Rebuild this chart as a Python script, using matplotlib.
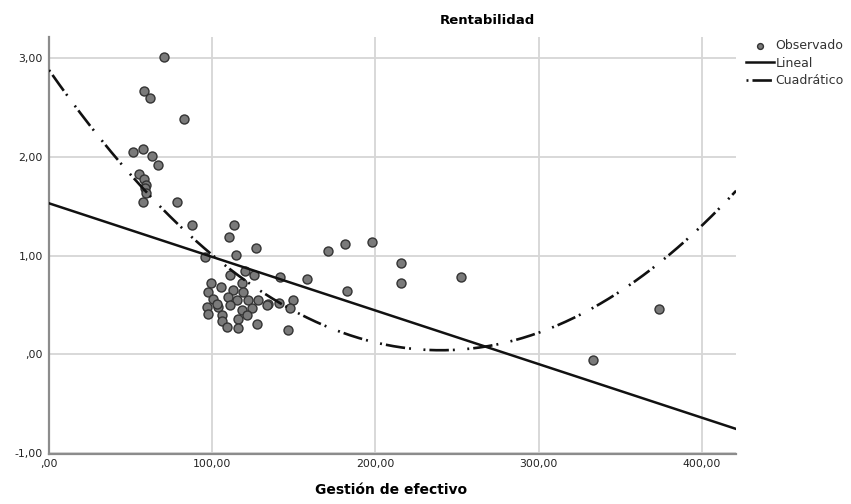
import numpy as np
import matplotlib
matplotlib.use('Agg')
from matplotlib import pyplot as plt
from matplotlib.ticker import FuncFormatter

plt.rcParams['font.family'] = ['DejaVu Sans']
plt.rcParams['lines.scale_dashes'] = False

# observed cases (Gestion de efectivo, Rentabilidad)
gestion = [70.7, 58.4, 61.8, 82.5, 51.6, 57.3, 63.4, 66.6, 55.4, 57.9,
           59.4, 58.8, 59.4, 57.3, 78.4, 87.8, 113.5, 110.2, 126.8, 114.3,
           95.5, 170.7, 181.3, 198.2, 215.6, 215.6, 252.5, 182.3, 158.2, 141.5,
           373.5, 333.3, 146.4, 120.0, 125.5, 110.8, 99.0, 118.0, 105.1, 112.9,
           97.6, 119.0, 109.8, 115.0, 100.6, 122.0, 127.8, 134.3, 141.0, 149.6,
           147.6, 96.9, 103.7, 110.8, 124.1, 97.6, 105.8, 118.0, 121.1, 105.8,
           115.9, 109.2, 115.9, 127.6, 133.3, 102.7]
rentab = [3.01, 2.67, 2.60, 2.38, 2.05, 2.08, 2.01, 1.92, 1.83, 1.78,
          1.72, 1.68, 1.63, 1.54, 1.54, 1.31, 1.31, 1.19, 1.08, 1.01,
          0.99, 1.05, 1.12, 1.14, 0.93, 0.72, 0.78, 0.64, 0.76, 0.78,
          0.46, -0.06, 0.25, 0.84, 0.80, 0.80, 0.72, 0.72, 0.68, 0.65,
          0.63, 0.63, 0.58, 0.55, 0.56, 0.55, 0.55, 0.51, 0.52, 0.55,
          0.47, 0.48, 0.48, 0.50, 0.47, 0.41, 0.40, 0.45, 0.40, 0.34,
          0.36, 0.28, 0.27, 0.31, 0.50, 0.51]

# fitted models (constant, b1, b2)
lineal_coef = [1.53, -0.00543]
cuad_coef = [2.88, -0.02366, 0.0000493]

x_ticks = [0, 100, 200, 300, 400]
y_ticks = [-1, 0, 1, 2, 3]

fig = plt.figure(figsize=(8.51, 5.04), dpi=100)
ax = fig.add_axes([0.0576, 0.0992, 0.8074, 0.8274])

ax.set_xlim(0, 421)
ax.set_ylim(-1.01, 3.215)
ax.set_xticks(x_ticks)
ax.set_yticks(y_ticks)

def fmt(v, pos):
    s = '%.2f' % v
    s = s.replace('.', ',')
    if s.startswith('0,'):
        s = s[1:]
    return s

ax.xaxis.set_major_formatter(FuncFormatter(fmt))
ax.yaxis.set_major_formatter(FuncFormatter(fmt))
ax.tick_params(length=0, labelsize=7.8, colors='#222222')
ax.tick_params(axis='y', pad=4.5)
ax.tick_params(axis='x', pad=3.5)

ax.grid(True, color='#d6d6d6', linewidth=1.3)
ax.set_axisbelow(True)
for s in ['top', 'right']:
    ax.spines[s].set_visible(False)
for s in ['left', 'bottom']:
    ax.spines[s].set_color('#8c8c8c')
    ax.spines[s].set_linewidth(1.6)

xs = np.linspace(0, 421, 400)
y_lin = lineal_coef[0] + lineal_coef[1] * xs
y_cuad = cuad_coef[0] + cuad_coef[1] * xs + cuad_coef[2] * xs ** 2

ax.scatter(gestion, rentab, s=42, facecolor='#7a7a7a', edgecolor='#333333',
           linewidth=1.0, zorder=3, label='Observado')
ax.plot(xs, y_lin, color='#111111', lw=1.8, zorder=4, label='Lineal')
ax.plot(xs, y_cuad, color='#111111', lw=1.9, zorder=4,
        dashes=(1.4, 2.9, 14, 2.9, 1.4, 9), label='Cuadrático')

leg = ax.legend(loc='upper left', bbox_to_anchor=(746 / 851, 1 - 39 / 504),
                bbox_transform=fig.transFigure, frameon=False, fontsize=9,
                handlelength=2.2, handletextpad=0.15, labelspacing=0.38,
                borderpad=0, borderaxespad=0, markerscale=0.65)
for t in leg.get_texts():
    t.set_color('#333333')

fig.text(487 / 851, 1 - 20 / 504, 'Rentabilidad', ha='center', va='center',
         fontsize=9.5, fontweight='bold')
fig.text(391 / 851, 1 - 490 / 504, 'Gestión de efectivo', ha='center',
         va='center', fontsize=10, fontweight='bold')

fig.savefig('out.png', dpi=100)
